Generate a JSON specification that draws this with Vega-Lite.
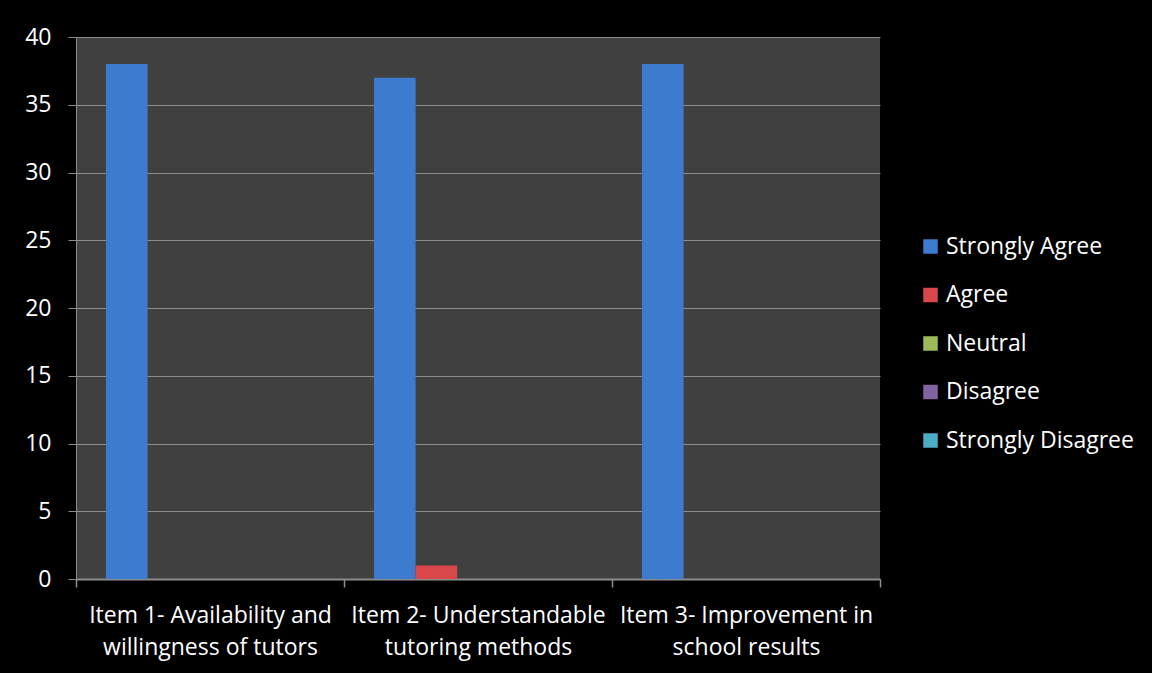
{
  "$schema": "https://vega.github.io/schema/vega-lite/v6.json",
  "autosize": {"type": "none"},
  "width": 804,
  "height": 542,
  "padding": {"left": 76, "top": 37, "right": 272, "bottom": 94},
  "background": "#000000",
  "data": {
    "values": [
      {"item": "Item 1", "response": "Strongly Agree", "count": 38},
      {"item": "Item 1", "response": "Agree", "count": 0},
      {"item": "Item 1", "response": "Neutral", "count": 0},
      {"item": "Item 1", "response": "Disagree", "count": 0},
      {"item": "Item 1", "response": "Strongly Disagree", "count": 0},
      {"item": "Item 2", "response": "Strongly Agree", "count": 37},
      {"item": "Item 2", "response": "Agree", "count": 1},
      {"item": "Item 2", "response": "Neutral", "count": 0},
      {"item": "Item 2", "response": "Disagree", "count": 0},
      {"item": "Item 2", "response": "Strongly Disagree", "count": 0},
      {"item": "Item 3", "response": "Strongly Agree", "count": 38},
      {"item": "Item 3", "response": "Agree", "count": 0},
      {"item": "Item 3", "response": "Neutral", "count": 0},
      {"item": "Item 3", "response": "Disagree", "count": 0},
      {"item": "Item 3", "response": "Strongly Disagree", "count": 0}
    ]
  },
  "mark": {"type": "bar"},
  "encoding": {
    "x": {
      "field": "item",
      "type": "nominal",
      "sort": ["Item 1", "Item 2", "Item 3"],
      "scale": {"paddingInner": 0, "paddingOuter": 0},
      "axis": {
        "title": null,
        "labelAngle": 0,
        "tickBand": "extent",
        "grid": false,
        "labelExpr": "datum.extra ? '' : datum.value == 'Item 1' ? ['Item 1- Availability and', 'willingness of tutors'] : datum.value == 'Item 2' ? ['Item 2- Understandable', 'tutoring methods'] : ['Item 3- Improvement in', 'school results']",
        "labelFontSize": 23,
        "labelLineHeight": 32,
        "labelPadding": 17,
        "labelLimit": 300,
        "domainColor": "#8c8c8c",
        "domainWidth": 2,
        "tickColor": "#8c8c8c",
        "tickSize": 8,
        "tickWidth": 1.5
      }
    },
    "xOffset": {
      "field": "response",
      "type": "nominal",
      "sort": ["Strongly Agree", "Agree", "Neutral", "Disagree", "Strongly Disagree"],
      "scale": {"paddingInner": 0, "paddingOuter": 0.72}
    },
    "y": {
      "field": "count",
      "type": "quantitative",
      "scale": {"domain": [0, 40]},
      "axis": {
        "title": null,
        "values": [0, 5, 10, 15, 20, 25, 30, 35, 40],
        "labelFontSize": 23,
        "labelPadding": 17,
        "tickSize": 8,
        "tickColor": "#8c8c8c",
        "domainColor": "#8c8c8c",
        "gridColor": "#8c8c8c",
        "gridWidth": 1
      }
    },
    "color": {
      "field": "response",
      "type": "nominal",
      "sort": ["Strongly Agree", "Agree", "Neutral", "Disagree", "Strongly Disagree"],
      "scale": {
        "domain": ["Strongly Agree", "Agree", "Neutral", "Disagree", "Strongly Disagree"],
        "range": ["#3d7bcf", "#d9474a", "#9bbb59", "#8064a2", "#4bacc6"]
      },
      "legend": {
        "title": null,
        "orient": "none",
        "legendX": 843,
        "legendY": 198,
        "symbolType": "square",
        "symbolSize": 210,
        "symbolStrokeWidth": 0,
        "symbolOpacity": 1,
        "labelFontSize": 23,
        "labelOffset": 4,
        "rowPadding": 24.5,
        "labelLimit": 300
      }
    }
  },
  "config": {
    "font": "Open Sans",
    "view": {"fill": "#404040", "stroke": null},
    "axis": {"labelColor": "#ffffff", "labelFont": "Open Sans"},
    "legend": {"labelColor": "#ffffff", "labelFont": "Open Sans"}
  }
}
